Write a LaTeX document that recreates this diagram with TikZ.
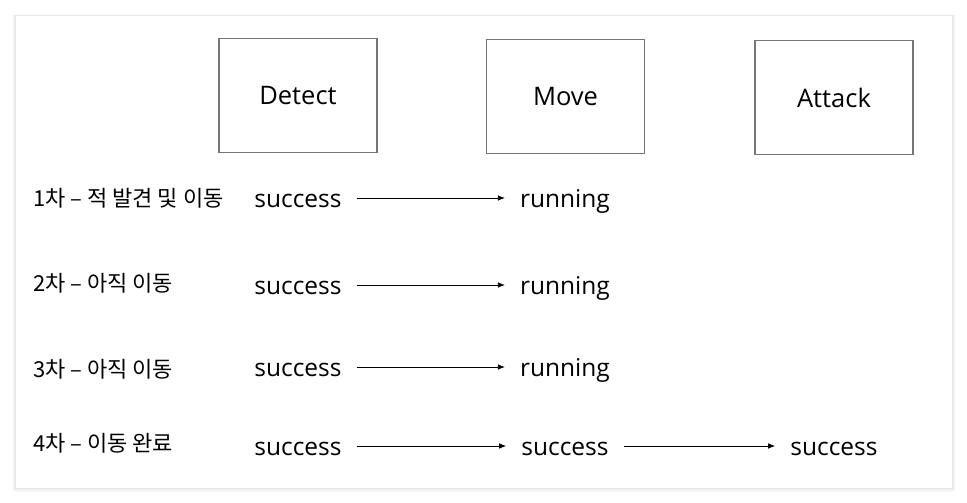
\documentclass[tikz,border=0pt]{standalone}
\usepackage{fontspec}
\setmainfont{Open Sans}
\newfontfamily\kofont{Noto Sans CJK KR}
\usetikzlibrary{positioning, arrows.meta}
\definecolor{boxgray}{RGB}{118,118,118}
\definecolor{cardline}{RGB}{232,232,232}
\tikzset{
>={Latex[length=7pt,width=5.5pt]}, % small filled arrow heads
x=1pt, y=-1pt, % one unit is one pixel of the reference
taskbox/.style={draw=boxgray, line width=1.4pt, minimum width=158pt, minimum height=114pt, font=\fontsize{25.5}{30}\selectfont}, % behaviour boxes
status/.style={font=\fontsize{24.5}{29}\selectfont, inner xsep=15pt, text height=23pt, text depth=5pt}, % result of one node in a round
round/.style={font=\kofont\fontsize{22}{26}\selectfont, anchor=west, inner sep=0pt}, % round labels on the left
}

\begin{document}
\begin{tikzpicture}
  % Card
  \useasboundingbox (0,0) rectangle (967,503);
  \fill[white] (0,0) rectangle (967,503);
  \fill[black!4] (13,15) rectangle (955,492);
  \fill[black!7] (14,15) rectangle (954,490);
  \filldraw[fill=white, draw=cardline] (15,15) rectangle (952,488);

  % Behaviours
  \node[taskbox] (detect) at (298,95.5) {Detect};
  \node[taskbox] (move) at (565.5,96.5) {Move};
  \node[taskbox] (attack) at (834,97.5) {Attack};

  % Rounds
  \node[round] (r1) at (33,198) {1차 – 적 발견 및 이동};
  \node[round] (r2) at (33,283) {2차 – 아직 이동};
  \node[round] (r3) at (33,369) {3차 – 아직 이동};
  \node[round] (r4) at (33,443) {4차 – 이동 완료};

  % Results
  \node[status] (d1) at (298,198) {success};
  \node[status] (m1) at (565,198) {running};
  \node[status] (d2) at (298,285) {success};
  \node[status] (m2) at (565,285) {running};
  \node[status] (d3) at (298,367) {success};
  \node[status] (m3) at (565,367) {running};
  \node[status] (d4) at (298,446) {success};
  \node[status] (m4) at (565,446) {success};
  \node[status] (a4) at (834,446) {success};

  % Transitions
  \path[->, line width=0.8pt]
    (d1) edge (m1)
    (d2) edge (m2)
    (d3) edge (m3)
    (d4) edge (m4)
    (m4) edge (a4);
\end{tikzpicture}
\end{document}
